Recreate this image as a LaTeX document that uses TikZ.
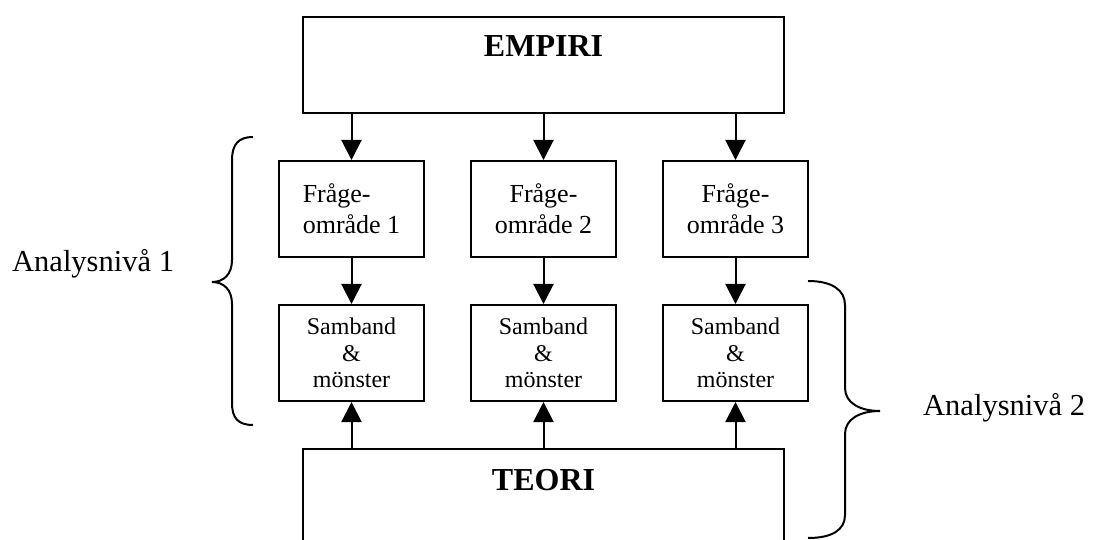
\documentclass[tikz,border=0pt]{standalone}
\usepackage{fontspec}
\setmainfont{Liberation Serif}
\usetikzlibrary{arrows.meta}
\tikzstyle{bigbox} = [draw=black, line width=2pt, rectangle, inner sep=0pt,
    minimum width=481pt, font=\fontsize{32}{38}\selectfont\bfseries]
\tikzstyle{askbox} = [draw=black, line width=2pt, rectangle, inner sep=0pt,
    minimum width=145pt, minimum height=96pt, align=center, font=\fontsize{26}{31}\selectfont]
\tikzstyle{linkbox} = [askbox, font=\fontsize{24}{26.5}\selectfont]
\tikzstyle{arrow} = [line width=2pt, -{Triangle[length=20pt,width=20pt]}]
\tikzstyle{curly} = [line width=2pt]
\tikzstyle{levellabel} = [font=\fontsize{30.5}{36}\selectfont, inner sep=0pt, anchor=base west]

\begin{document}
\begin{tikzpicture}[x=1pt, y=-1pt]
                \useasboundingbox (0,0) rectangle (1093,540);
                \clip (0,0) rectangle (1093,540);
                % top and bottom boxes
                \node[bigbox, anchor=base, text height=40pt, text depth=56pt] (empiri) at (543.5,57) {EMPIRI};
                \node[bigbox, anchor=base, text height=41pt, text depth=90pt] (teori) at (543.5,490) {TEORI};
                % question areas
                \node[askbox, align=left] (fraga1) at (351.5,209) {Fråge-\\område 1};
                \node[askbox] (fraga2) at (543.5,209) {Fråge-\\område 2};
                \node[askbox] (fraga3) at (735.5,209) {Fråge-\\område 3};
                % links and patterns
                \node[linkbox] (samband1) at (351.5,353) {Samband\\\&\\mönster};
                \node[linkbox] (samband2) at (543.5,353) {Samband\\\&\\mönster};
                \node[linkbox] (samband3) at (735.5,353) {Samband\\\&\\mönster};
                % arrows
                \draw[arrow] (empiri.south -| fraga1) -- (fraga1.north);
                \draw[arrow] (empiri.south -| fraga2) -- (fraga2.north);
                \draw[arrow] (empiri.south -| fraga3) -- (fraga3.north);
                \draw[arrow] (fraga1.south) -- (samband1.north);
                \draw[arrow] (fraga2.south) -- (samband2.north);
                \draw[arrow] (fraga3.south) -- (samband3.north);
                \draw[arrow] (teori.north -| samband1) -- (samband1.south);
                \draw[arrow] (teori.north -| samband2) -- (samband2.south);
                \draw[arrow] (teori.north -| samband3) -- (samband3.south);
                % braces
                \draw[curly] (253,137) .. controls (238,137) and (232,145) .. (232,160) -- (232,260)
                    .. controls (232,274) and (224,282) .. (212,282)
                    .. controls (224,282) and (232,290) .. (232,304) -- (232,403)
                    .. controls (232,418) and (238,425) .. (253,425);
                \draw[curly] (808,281) .. controls (832,281) and (845,290) .. (845,305) -- (845,388)
                    .. controls (845,403) and (860,411) .. (880,411)
                    .. controls (860,411) and (845,419) .. (845,434) -- (845,515)
                    .. controls (845,530) and (832,538) .. (808,538);
                \node[levellabel] (niva1) at (12,272) {Analysnivå 1};
                \node[levellabel] (niva2) at (923,415) {Analysnivå 2};
            \end{tikzpicture}
\end{document}
